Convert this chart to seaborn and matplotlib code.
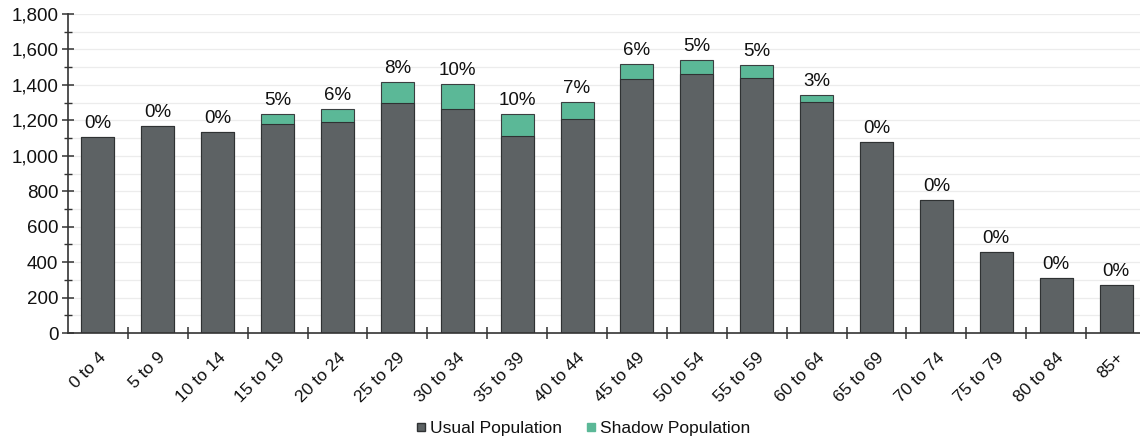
import matplotlib
matplotlib.use("Agg")
import matplotlib.pyplot as plt
from matplotlib.lines import Line2D
from matplotlib.ticker import MultipleLocator, FuncFormatter
import numpy as np
import pandas as pd
import seaborn as sns

age_groups = ["0 to 4", "5 to 9", "10 to 14", "15 to 19", "20 to 24", "25 to 29",
              "30 to 34", "35 to 39", "40 to 44", "45 to 49", "50 to 54", "55 to 59",
              "60 to 64", "65 to 69", "70 to 74", "75 to 79", "80 to 84", "85+"]
usual_population = [1105, 1167, 1135, 1180, 1192, 1298, 1262, 1113, 1209, 1431,
                    1461, 1437, 1305, 1079, 753, 457, 313, 269]
shadow_population = [0, 0, 0, 55, 70, 120, 143, 122, 96, 87, 79, 73, 39, 0, 0, 0, 0, 0]
shadow_share_labels = ["0%", "0%", "0%", "5%", "6%", "8%", "10%", "10%", "7%", "6%",
                       "5%", "5%", "3%", "0%", "0%", "0%", "0%", "0%"]

USUAL_COLOR = "#5d6264"
SHADOW_COLOR = "#5bb897"
TEXT_COLOR = "#111111"

df = pd.DataFrame({
    "age": age_groups,
    "usual": usual_population,
    "shadow": shadow_population,
})
df["total"] = df["usual"] + df["shadow"]

sns.set_theme(style="white")
plt.rcParams["font.family"] = ["Liberation Sans", "DejaVu Sans"]

fig = plt.figure(figsize=(11.4, 4.42), dpi=100)
ax = fig.add_axes([68 / 1140, 1 - 333 / 442, (1146 - 68) / 1140, (333 - 14) / 442])

# stacked bars: full total in green, usual population drawn over it
sns.barplot(data=df, x="age", y="total", color=SHADOW_COLOR, width=0.55,
            edgecolor="#3a3f40", linewidth=0.8, saturation=1, ax=ax)
sns.barplot(data=df, x="age", y="usual", color=USUAL_COLOR, width=0.55,
            edgecolor="#2f3233", linewidth=0.8, saturation=1, ax=ax)

ax.set_ylim(0, 1800)
ax.set_xlim(-0.5, len(age_groups) - 0.5)
ax.yaxis.set_major_locator(MultipleLocator(200))
ax.yaxis.set_minor_locator(MultipleLocator(100))
ax.yaxis.set_major_formatter(FuncFormatter(lambda v, _: f"{int(v):,}"))
ax.set_axisbelow(True)
for yv in np.arange(100, 1801, 100):
    ax.axhline(yv, color="#ececec", linewidth=0.9, zorder=0)

for side in ["top", "right"]:
    ax.spines[side].set_visible(False)
ax.spines["left"].set_color("#333333")
ax.spines["bottom"].set_color("#333333")
ax.spines["left"].set_linewidth(1.2)
ax.spines["bottom"].set_linewidth(1.2)

ax.tick_params(axis="y", which="major", direction="inout", length=8, width=1.1,
               color="#333333", labelsize=13.5, labelcolor=TEXT_COLOR, left=True, pad=3)
ax.tick_params(axis="y", which="minor", direction="inout", length=6, width=1.0,
               color="#333333", left=True)

# category boundary ticks on the x axis
ax.set_xticks(np.arange(len(age_groups)))
ax.set_xticklabels(age_groups, rotation=45, ha="right", rotation_mode="anchor",
                   fontsize=12.5, color=TEXT_COLOR)
ax.tick_params(axis="x", which="major", length=0, pad=12)
ax.set_xticks(np.arange(0.5, len(age_groups) - 0.5, 1), minor=True)
ax.tick_params(axis="x", which="minor", direction="inout", length=8, width=1.1,
               color="#333333", bottom=True)
ax.set_xlabel("")
ax.set_ylabel("")

for i, (tot, lab) in enumerate(zip(df["total"], shadow_share_labels)):
    ax.text(i, tot + 28, lab, ha="center", va="bottom", fontsize=13.5,
            color=TEXT_COLOR)

handles = [
    Line2D([], [], marker="s", linestyle="none", markersize=6,
           markerfacecolor=USUAL_COLOR, markeredgecolor="#2f3233", label="Usual Population"),
    Line2D([], [], marker="s", linestyle="none", markersize=6,
           markerfacecolor=SHADOW_COLOR, markeredgecolor=SHADOW_COLOR, label="Shadow Population"),
]
fig.legend(handles=handles, loc="center", bbox_to_anchor=(582 / 1140, 1 - 428 / 442),
           ncol=2, frameon=False, fontsize=12.5, handlelength=0.8, handletextpad=0.1,
           columnspacing=1.3, labelcolor=TEXT_COLOR)

fig.savefig("out.png", dpi=100)
